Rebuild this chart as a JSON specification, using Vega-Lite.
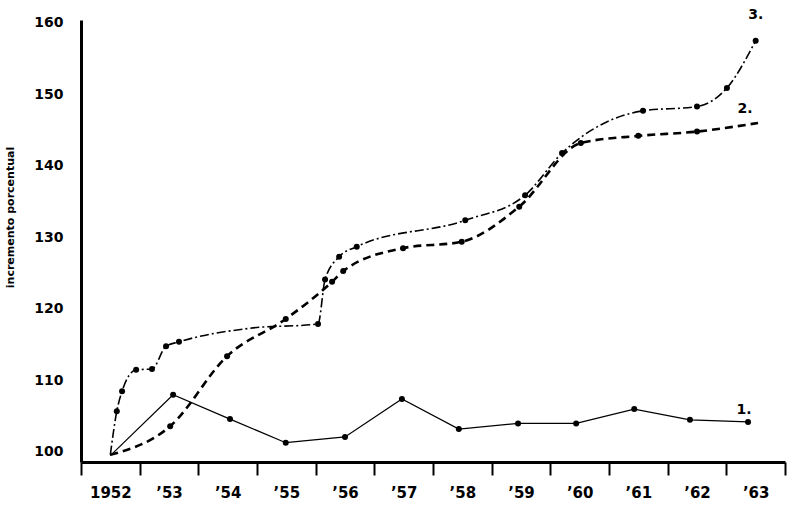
{
  "$schema": "https://vega.github.io/schema/vega-lite/v6.json",
  "width": 704,
  "height": 442,
  "autosize": {"type": "none"},
  "padding": {"left": 81, "top": 20, "right": 3, "bottom": 43},
  "background": "white",
  "config": {"view": {"stroke": null}, "font": "DejaVu Sans"},
  "datasets": {
    "series": [
      {"series": "1", "year": 1952.0, "value": 99.5, "dot": false},
      {"series": "1", "year": 1953.07, "value": 108.0, "dot": true},
      {"series": "1", "year": 1954.04, "value": 104.6, "dot": true},
      {"series": "1", "year": 1954.99, "value": 101.3, "dot": true},
      {"series": "1", "year": 1956.0, "value": 102.1, "dot": true},
      {"series": "1", "year": 1956.97, "value": 107.4, "dot": true},
      {"series": "1", "year": 1957.94, "value": 103.2, "dot": true},
      {"series": "1", "year": 1958.95, "value": 104.0, "dot": true},
      {"series": "1", "year": 1959.94, "value": 104.0, "dot": true},
      {"series": "1", "year": 1960.93, "value": 106.0, "dot": true},
      {"series": "1", "year": 1961.88, "value": 104.5, "dot": true},
      {"series": "1", "year": 1962.87, "value": 104.2, "dot": true},
      {"series": "2", "year": 1952.0, "value": 99.6, "dot": false},
      {"series": "2", "year": 1953.02, "value": 103.6, "dot": true},
      {"series": "2", "year": 1953.99, "value": 113.4, "dot": true},
      {"series": "2", "year": 1954.99, "value": 118.6, "dot": true},
      {"series": "2", "year": 1955.78, "value": 123.8, "dot": true},
      {"series": "2", "year": 1955.97, "value": 125.3, "dot": true},
      {"series": "2", "year": 1956.99, "value": 128.5, "dot": true},
      {"series": "2", "year": 1957.99, "value": 129.4, "dot": true},
      {"series": "2", "year": 1958.97, "value": 134.3, "dot": true},
      {"series": "2", "year": 1960.02, "value": 143.2, "dot": true},
      {"series": "2", "year": 1961.0, "value": 144.2, "dot": true},
      {"series": "2", "year": 1962.0, "value": 144.8, "dot": true},
      {"series": "2", "year": 1963.04, "value": 146.0, "dot": false},
      {"series": "3", "year": 1952.0, "value": 99.6, "dot": false},
      {"series": "3", "year": 1952.11, "value": 105.7, "dot": true},
      {"series": "3", "year": 1952.2, "value": 108.5, "dot": true},
      {"series": "3", "year": 1952.44, "value": 111.5, "dot": true},
      {"series": "3", "year": 1952.71, "value": 111.6, "dot": true},
      {"series": "3", "year": 1952.95, "value": 114.8, "dot": true},
      {"series": "3", "year": 1953.17, "value": 115.4, "dot": true},
      {"series": "3", "year": 1954.38, "value": 117.3, "dot": false},
      {"series": "3", "year": 1955.54, "value": 117.9, "dot": true},
      {"series": "3", "year": 1955.66, "value": 124.1, "dot": true},
      {"series": "3", "year": 1955.9, "value": 127.3, "dot": true},
      {"series": "3", "year": 1956.2, "value": 128.7, "dot": true},
      {"series": "3", "year": 1958.05, "value": 132.4, "dot": true},
      {"series": "3", "year": 1959.07, "value": 135.9, "dot": true},
      {"series": "3", "year": 1959.7, "value": 141.8, "dot": true},
      {"series": "3", "year": 1961.08, "value": 147.7, "dot": true},
      {"series": "3", "year": 1962.0, "value": 148.3, "dot": true},
      {"series": "3", "year": 1962.51, "value": 150.9, "dot": true},
      {"series": "3", "year": 1963.0, "value": 157.5, "dot": true}
    ],
    "yticks": [
      {"value": 100}, {"value": 110}, {"value": 120}, {"value": 130},
      {"value": 140}, {"value": 150}, {"value": 160}
    ],
    "labels": [
      {"label": "1.", "year": 1962.8, "value": 105.9},
      {"label": "2.", "year": 1962.82, "value": 148.0},
      {"label": "3.", "year": 1963.0, "value": 161.1}
    ]
  },
  "data": {"name": "series"},
  "encoding": {
    "x": {
      "field": "year",
      "type": "quantitative",
      "scale": {"domain": [1951.5, 1963.5], "nice": false, "zero": false},
      "axis": {
        "title": null,
        "grid": false,
        "values": [1951.5, 1952, 1952.5, 1953, 1953.5, 1954, 1954.5, 1955, 1955.5, 1956, 1956.5, 1957, 1957.5, 1958, 1958.5, 1959, 1959.5, 1960, 1960.5, 1961, 1961.5, 1962, 1962.5, 1963, 1963.5],
        "labelExpr": "datum.value % 1 !== 0 ? '' : (datum.value === 1952 ? '1952' : '\u2019' + substring(toString(datum.value), 2, 4))",
        "tickOpacity": {"condition": {"test": "datum.value % 1 === 0", "value": 0}, "value": 1},
        "tickSize": 13,
        "tickWidth": 2,
        "tickColor": "black",
        "domainWidth": 3,
        "domainColor": "black",
        "labelFontSize": 15,
        "labelFontWeight": "bold",
        "labelColor": "black",
        "labelPadding": 10,
        "labelFlush": false,
        "labelOverlap": false,
        "labelBound": false
      }
    },
    "y": {
      "field": "value",
      "type": "quantitative",
      "scale": {"domain": [98.6, 160.4], "nice": false, "zero": false},
      "axis": {
        "title": "incremento porcentual",
        "grid": false,
        "values": [100, 110, 120, 130, 140, 150, 160],
        "ticks": false,
        "labelPadding": 18,
        "labelFontSize": 14,
        "labelFontWeight": "bold",
        "labelColor": "black",
        "domainWidth": 3,
        "domainColor": "black",
        "titleFontSize": 11,
        "titleFontWeight": "bold",
        "titleColor": "black",
        "titleAngle": -90,
        "titleX": -71,
        "titleY": 197,
        "titleAlign": "center",
        "titleBaseline": "middle"
      }
    }
  },
  "layer": [
    {
      "data": {"name": "yticks"},
      "mark": {"type": "tick", "orient": "horizontal", "size": 24, "thickness": 2, "color": "black"},
      "encoding": {
        "x": {"datum": 1951.5, "type": "quantitative"}
      }
    },
    {
      "transform": [{"filter": "datum.series === '1'"}],
      "mark": {"type": "line", "color": "black", "strokeWidth": 1.2, "interpolate": "linear"}
    },
    {
      "transform": [{"filter": "datum.series === '2'"}],
      "mark": {"type": "line", "color": "black", "strokeWidth": 2.6, "strokeDash": [8, 5], "interpolate": "monotone"}
    },
    {
      "transform": [{"filter": "datum.series === '3'"}],
      "mark": {"type": "line", "color": "black", "strokeWidth": 1.6, "strokeDash": [9, 3, 2, 3], "interpolate": "monotone"}
    },
    {
      "transform": [{"filter": "datum.dot"}],
      "mark": {"type": "circle", "color": "black", "size": 36, "opacity": 1}
    },
    {
      "data": {"name": "labels"},
      "mark": {"type": "text", "fontSize": 14, "fontWeight": "bold", "color": "black", "align": "center", "baseline": "middle"},
      "encoding": {"text": {"field": "label"}}
    }
  ]
}
